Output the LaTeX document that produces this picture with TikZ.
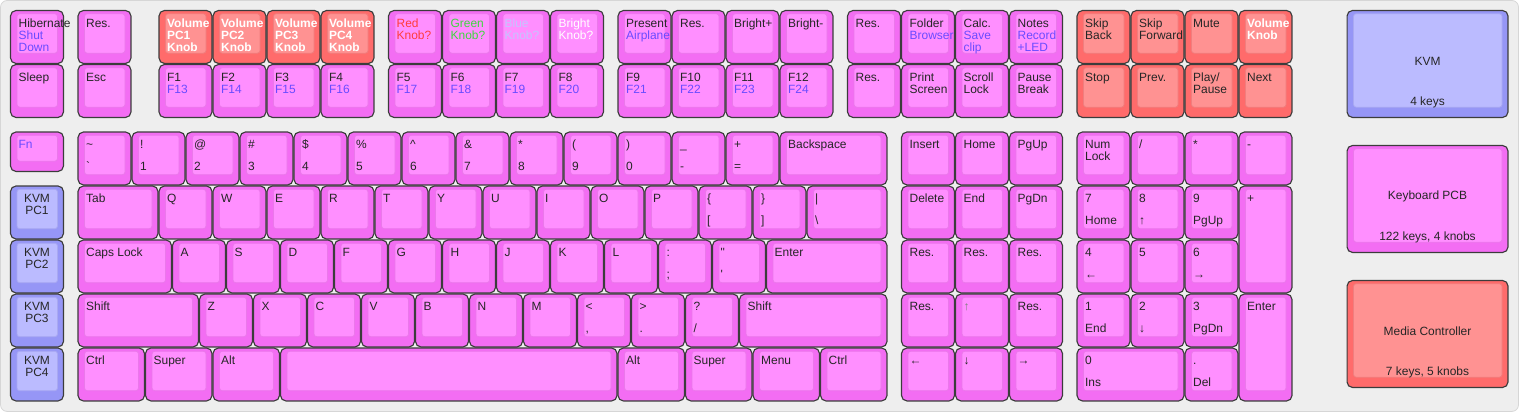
\documentclass[tikz,border=0pt]{standalone}
\usepackage{fontspec}
\setmainfont{Liberation Sans}

\definecolor{pkside}{HTML}{F36DF3}
\definecolor{pkface}{HTML}{FF8FFF}
\definecolor{pkedge}{HTML}{EB78EB}
\definecolor{rdside}{HTML}{FF6B6B}
\definecolor{rdface}{HTML}{FF9292}
\definecolor{rdedge}{HTML}{F07E7E}
\definecolor{blside}{HTML}{9696F6}
\definecolor{blface}{HTML}{BBBBFF}
\definecolor{bledge}{HTML}{A9A9F2}
\definecolor{ink}{HTML}{262626}
\definecolor{subink}{HTML}{6A4BFF}
\definecolor{knred}{HTML}{FF3C3C}
\definecolor{kngreen}{HTML}{3FD83F}
\definecolor{knblue}{HTML}{C4C4FF}
\definecolor{bgfill}{HTML}{EEEEEE}
\definecolor{bgline}{HTML}{D6D6D6}
\definecolor{capline}{HTML}{3C3C3C}

\newcommand{\kfont}{\fontsize{6.3pt}{6.2pt}\selectfont}
\newcommand{\lines}[1]{\begin{tabular}[t]{@{}l@{}}#1\end{tabular}}
\newcommand{\clines}[1]{\begin{tabular}[t]{@{}c@{}}#1\end{tabular}}
\newcommand{\blu}[1]{\textcolor{subink}{#1}}
\newcommand{\knob}[1]{\textcolor{white}{\textbf{#1}}}

% name, x, y, width, height, colour scheme
\newcommand{\kbody}[6]{%
  \node[keycap, fill=#6side, minimum width=#4cm-0.02cm, minimum height=#5cm-0.02cm] (#1) at ({#2+#4/2},{-#3-#5/2}) {};
  \filldraw[capface, fill=#6face, draw=#6edge] ([shift={(0.12,-0.06)}]#1.north west) rectangle ([shift={(-0.11,0.19)}]#1.south east);
}
% ... plus top and bottom legend
\newcommand{\kcap}[8]{%
  \kbody{#1}{#2}{#3}{#4}{#5}{#6}
  \node[lgd] (#1t) at ([shift={(0.15,-0.31)}]#1.north west) {\lines{#7}};
  \node[lgd] (#1b) at ([shift={(0.15,-0.72)}]#1.north west) {\lines{#8}};
}
% ... plus centre and bottom centre legend
\newcommand{\kbox}[8]{%
  \kbody{#1}{#2}{#3}{#4}{#5}{#6}
  \node[lgd, anchor=center] (#1t) at ([yshift=0.045cm]#1.center) {#7};
  \node[lgd, anchor=base] (#1b) at ([yshift=0.23cm]#1.south) {#8};
}

\begin{document}
\begin{tikzpicture}[
        x=1cm,
        y=1cm,
        keycap/.style={rectangle, draw=capline, line width=0.6pt, rounded corners=0.1cm, inner sep=0pt, outer sep=0pt},
        capface/.style={line width=0.4pt, rounded corners=0.05cm},
        lgd/.style={anchor=base west, inner sep=0pt, outer sep=0pt, text=ink, font=\kfont}
    ]
    \useasboundingbox (-0.185,0.185) rectangle (27.944,-7.444);
    \draw[fill=bgfill, draw=bgline, rounded corners=0.12cm] (-0.175,0.175) rectangle (27.934,-7.434);

    % top row
    \kcap{hib}{0}{0}{1}{1}{pk}{Hibernate\\\blu{Shut}\\\blu{Down}}{}
    \kcap{resa}{1.25}{0}{1}{1}{pk}{Res.}{}
    \foreach \i in {1,...,4} { \kcap{vol\i}{1.75+\i}{0}{1}{1}{rd}{\knob{Volume}\\\knob{PC\i}\\\knob{Knob}}{} }
    \kcap{kred}{7}{0}{1}{1}{pk}{\textcolor{knred}{Red}\\\textcolor{knred}{Knob?}}{}
    \kcap{kgrn}{8}{0}{1}{1}{pk}{\textcolor{kngreen}{Green}\\\textcolor{kngreen}{Knob?}}{}
    \kcap{kblu}{9}{0}{1}{1}{pk}{\textcolor{knblue}{Blue}\\\textcolor{knblue}{Knob?}}{}
    \kcap{kbri}{10}{0}{1}{1}{pk}{\textcolor{white}{Bright}\\\textcolor{white}{Knob?}}{}
    \kcap{pres}{11.25}{0}{1}{1}{pk}{Present\\\blu{Airplane}}{}
    \kcap{resb}{12.25}{0}{1}{1}{pk}{Res.}{}
    \kcap{brup}{13.25}{0}{1}{1}{pk}{Bright+}{}
    \kcap{brdn}{14.25}{0}{1}{1}{pk}{Bright-}{}
    \kcap{resc}{15.5}{0}{1}{1}{pk}{Res.}{}
    \kcap{fold}{16.5}{0}{1}{1}{pk}{Folder\\\blu{Browser}}{}
    \kcap{calc}{17.5}{0}{1}{1}{pk}{Calc.\\\blu{Save}\\\blu{clip}}{}
    \kcap{note}{18.5}{0}{1}{1}{pk}{Notes\\\blu{Record}\\\blu{+LED}}{}
    \kcap{skpb}{19.75}{0}{1}{1}{rd}{Skip\\Back}{}
    \kcap{skpf}{20.75}{0}{1}{1}{rd}{Skip\\Forward}{}
    \kcap{mute}{21.75}{0}{1}{1}{rd}{Mute}{}
    \kcap{volk}{22.75}{0}{1}{1}{rd}{\knob{Volume}\\\knob{Knob}}{}
    \kbox{kvm}{24.75}{0}{3}{2}{bl}{KVM}{4 keys}

    % F row
    \kcap{sleep}{0}{1}{1}{1}{pk}{Sleep}{}
    \kcap{esc}{1.25}{1}{1}{1}{pk}{Esc}{}
    \foreach \n/\x in {1/2.75,2/3.75,3/4.75,4/5.75,5/7,6/8,7/9,8/10,9/11.25,10/12.25,11/13.25,12/14.25} {
        \pgfmathtruncatemacro{\m}{\n+12}
        \kcap{f\n}{\x}{1}{1}{1}{pk}{F\n\\\blu{F\m}}{}
    }
    \kcap{resd}{15.5}{1}{1}{1}{pk}{Res.}{}
    \kcap{prt}{16.5}{1}{1}{1}{pk}{Print\\Screen}{}
    \kcap{scrl}{17.5}{1}{1}{1}{pk}{Scroll\\Lock}{}
    \kcap{paus}{18.5}{1}{1}{1}{pk}{Pause\\Break}{}
    \kcap{stop}{19.75}{1}{1}{1}{rd}{Stop}{}
    \kcap{prev}{20.75}{1}{1}{1}{rd}{Prev.}{}
    \kcap{play}{21.75}{1}{1}{1}{rd}{Play/\\Pause}{}
    \kcap{next}{22.75}{1}{1}{1}{rd}{Next}{}

    % number row
    \kcap{fn}{0}{2.25}{1}{0.75}{pk}{\blu{Fn}}{}
    \kcap{tild}{1.25}{2.25}{1}{1}{pk}{\textasciitilde}{\textasciigrave}
    \foreach \hi/\lo [count=\i] in {!/1,@/2,\#/3,\$/4,\%/5,\textasciicircum/6,\&/7,*/8,{(}/9,{)}/0,\_/-,+/=} {
        \kcap{num\i}{1.25+\i}{2.25}{1}{1}{pk}{\hi}{\lo}
    }
    \kcap{bksp}{14.25}{2.25}{2}{1}{pk}{Backspace}{}
    \kcap{ins}{16.5}{2.25}{1}{1}{pk}{Insert}{}
    \kcap{home}{17.5}{2.25}{1}{1}{pk}{Home}{}
    \kcap{pgup}{18.5}{2.25}{1}{1}{pk}{PgUp}{}
    \kcap{nlck}{19.75}{2.25}{1}{1}{pk}{Num\\Lock}{}
    \kcap{pdiv}{20.75}{2.25}{1}{1}{pk}{/}{}
    \kcap{pmul}{21.75}{2.25}{1}{1}{pk}{*}{}
    \kcap{psub}{22.75}{2.25}{1}{1}{pk}{-}{}
    \kbox{pcb}{24.75}{2.5}{3}{2}{pk}{Keyboard PCB}{122 keys, 4 knobs}

    % KVM keys on the left
    \foreach \i/\y in {1/3.25,2/4.25,3/5.25,4/6.25} {
        \kbody{pc\i}{0}{\y}{1}{1}{bl}
        \node[lgd, anchor=base] (pct\i) at ([yshift=-0.31cm]pc\i.north) {\clines{KVM\\PC\i}};
    }

    % Q row
    \kcap{tab}{1.25}{3.25}{1.5}{1}{pk}{Tab}{}
    \foreach \ch [count=\i] in {Q,W,E,R,T,Y,U,I,O,P} { \kcap{k\ch}{1.75+\i}{3.25}{1}{1}{pk}{\ch}{} }
    \kcap{lbrk}{12.75}{3.25}{1}{1}{pk}{\{}{[}
    \kcap{rbrk}{13.75}{3.25}{1}{1}{pk}{\}}{]}
    \kcap{bsl}{14.75}{3.25}{1.5}{1}{pk}{\textbar}{\textbackslash}
    \kcap{del}{16.5}{3.25}{1}{1}{pk}{Delete}{}
    \kcap{kend}{17.5}{3.25}{1}{1}{pk}{End}{}
    \kcap{pgdn}{18.5}{3.25}{1}{1}{pk}{PgDn}{}
    \kcap{p7}{19.75}{3.25}{1}{1}{pk}{7}{Home}
    \kcap{p8}{20.75}{3.25}{1}{1}{pk}{8}{↑}
    \kcap{p9}{21.75}{3.25}{1}{1}{pk}{9}{PgUp}
    \kcap{padd}{22.75}{3.25}{1}{2}{pk}{+}{}

    % A row
    \kcap{caps}{1.25}{4.25}{1.75}{1}{pk}{Caps Lock}{}
    \foreach \ch [count=\i] in {A,S,D,F,G,H,J,K,L} { \kcap{k\ch}{2+\i}{4.25}{1}{1}{pk}{\ch}{} }
    \kcap{semi}{12}{4.25}{1}{1}{pk}{:}{;}
    \kcap{quot}{13}{4.25}{1}{1}{pk}{\textquotedbl}{\textquotesingle}
    \kcap{ent}{14}{4.25}{2.25}{1}{pk}{Enter}{}
    \kcap{rese}{16.5}{4.25}{1}{1}{pk}{Res.}{}
    \kcap{resf}{17.5}{4.25}{1}{1}{pk}{Res.}{}
    \kcap{resg}{18.5}{4.25}{1}{1}{pk}{Res.}{}
    \kcap{p4}{19.75}{4.25}{1}{1}{pk}{4}{←}
    \kcap{p5}{20.75}{4.25}{1}{1}{pk}{5}{}
    \kcap{p6}{21.75}{4.25}{1}{1}{pk}{6}{→}

    % Z row
    \kcap{lsft}{1.25}{5.25}{2.25}{1}{pk}{Shift}{}
    \foreach \ch [count=\i] in {Z,X,C,V,B,N,M} { \kcap{k\ch}{2.5+\i}{5.25}{1}{1}{pk}{\ch}{} }
    \kcap{comm}{10.5}{5.25}{1}{1}{pk}{\textless}{,}
    \kcap{peri}{11.5}{5.25}{1}{1}{pk}{\textgreater}{.}
    \kcap{slsh}{12.5}{5.25}{1}{1}{pk}{?}{/}
    \kcap{rsft}{13.5}{5.25}{2.75}{1}{pk}{Shift}{}
    \kcap{resh}{16.5}{5.25}{1}{1}{pk}{Res.}{}
    \kcap{aup}{17.5}{5.25}{1}{1}{pk}{\textcolor{gray}{↑}}{}
    \kcap{resi}{18.5}{5.25}{1}{1}{pk}{Res.}{}
    \kcap{p1}{19.75}{5.25}{1}{1}{pk}{1}{End}
    \kcap{p2}{20.75}{5.25}{1}{1}{pk}{2}{↓}
    \kcap{p3}{21.75}{5.25}{1}{1}{pk}{3}{PgDn}
    \kcap{pent}{22.75}{5.25}{1}{2}{pk}{Enter}{}
    \kbox{media}{24.75}{5}{3}{2}{rd}{Media Controller}{7 keys, 5 knobs}

    % bottom row
    \kcap{lctl}{1.25}{6.25}{1.25}{1}{pk}{Ctrl}{}
    \kcap{lsup}{2.5}{6.25}{1.25}{1}{pk}{Super}{}
    \kcap{lalt}{3.75}{6.25}{1.25}{1}{pk}{Alt}{}
    \kcap{spc}{5}{6.25}{6.25}{1}{pk}{}{}
    \kcap{ralt}{11.25}{6.25}{1.25}{1}{pk}{Alt}{}
    \kcap{rsup}{12.5}{6.25}{1.25}{1}{pk}{Super}{}
    \kcap{menu}{13.75}{6.25}{1.25}{1}{pk}{Menu}{}
    \kcap{rctl}{15}{6.25}{1.25}{1}{pk}{Ctrl}{}
    \kcap{aleft}{16.5}{6.25}{1}{1}{pk}{←}{}
    \kcap{adown}{17.5}{6.25}{1}{1}{pk}{↓}{}
    \kcap{aright}{18.5}{6.25}{1}{1}{pk}{→}{}
    \kcap{p0}{19.75}{6.25}{2}{1}{pk}{0}{Ins}
    \kcap{pdot}{21.75}{6.25}{1}{1}{pk}{.}{Del}
\end{tikzpicture}
\end{document}
